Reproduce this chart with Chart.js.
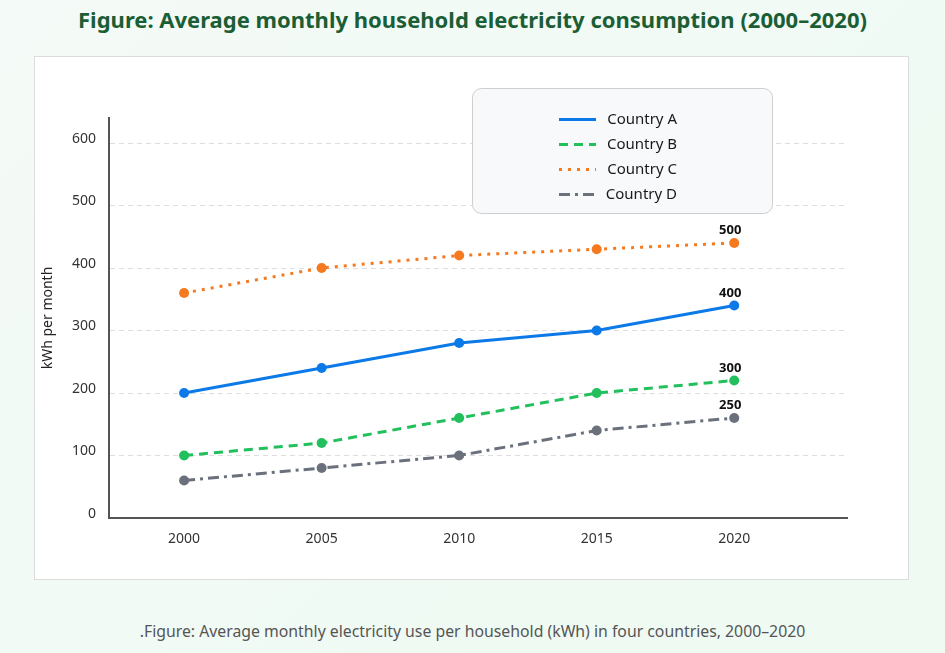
<!DOCTYPE html>
<html>
<head>
<meta charset="utf-8">
<script src="https://cdn.jsdelivr.net/npm/chart.js@4.4.1/dist/chart.umd.min.js"></script>
<style>
  html, body { margin: 0; padding: 0; }
  body {
    width: 945px; height: 653px; overflow: hidden; position: relative;
    background: linear-gradient(135deg, #f4faf7 0%, #eefaf2 100%);
    font-family: "Noto Sans", "Open Sans", sans-serif;
  }
  h1 {
    position: absolute; left: 0; top: 4px; width: 945px; margin: 0;
    text-align: center; font-size: 22px; font-weight: bold; color: #1b5e35;
    line-height: 30px;
  }
  .card {
    position: absolute; left: 34px; top: 56px; width: 873px; height: 522px;
    background: #fff; border: 1px solid #dcdcdc;
  }
  .caption {
    position: absolute; left: 0; top: 620px; width: 945px; text-align: center;
    font-size: 15.8px; color: #555; line-height: 22px;
  }
</style>
</head>
<body>
<h1>Figure: Average monthly household electricity consumption (2000–2020)</h1>
<div class="card"><canvas id="energyChart" width="873" height="522"></canvas></div>
<div class="caption">.Figure: Average monthly electricity use per household (kWh) in four countries, 2000–2020</div>

<script>
// data
const years = [2000, 2005, 2010, 2015, 2020];
const countryA = [200, 240, 280, 300, 340];
const countryB = [100, 120, 160, 200, 220];
const countryC = [360, 400, 420, 430, 440];
const countryD = [60, 80, 100, 140, 160];
// text shown above the last point of each line
const endLabels = { 'Country A': '400', 'Country B': '300', 'Country C': '500', 'Country D': '250' };
const yTicks = [0, 100, 200, 300, 400, 500, 600];

function toPoints(values) {
    return values.map((v, i) => ({ x: years[i], y: v }));
}

function makeSet(label, values, color, dash) {
    return {
        label: label,
        data: toPoints(values),
        borderColor: color,
        backgroundColor: color,
        borderWidth: 3,
        borderDash: dash,
        pointRadius: 5,
        pointBorderWidth: 0,
        pointBackgroundColor: color,
        tension: 0
    };
}

// little legend box drawn on the canvas
const boxLegend = {
    id: 'boxLegend',
    afterDraw(chart) {
        const ctx = chart.ctx;
        const area = chart.chartArea;
        const bx = area.right - 375, by = area.top - 30, bw = 300, bh = 125;
        ctx.save();
        ctx.beginPath();
        ctx.roundRect(bx + 0.5, by + 0.5, bw, bh, 9);
        ctx.fillStyle = '#f8f9fb';
        ctx.fill();
        ctx.strokeStyle = '#cfcfcf';
        ctx.lineWidth = 1;
        ctx.stroke();

        chart.data.datasets.forEach((ds, i) => {
            const y = by + 31.5 + i * 25;
            ctx.beginPath();
            ctx.setLineDash(ds.borderDash || []);
            ctx.strokeStyle = ds.borderColor;
            ctx.lineWidth = 3;
            ctx.moveTo(bx + 87, y);
            ctx.lineTo(bx + 124, y);
            ctx.stroke();
            ctx.setLineDash([]);
            ctx.fillStyle = '#1a1a1a';
            ctx.font = '15px "Noto Sans", sans-serif';
            ctx.textAlign = 'right';
            ctx.textBaseline = 'middle';
            ctx.fillText(ds.label, bx + 205, y);
        });
        ctx.restore();
    }
};

// value text above the last point
const endText = {
    id: 'endText',
    afterDatasetsDraw(chart) {
        const ctx = chart.ctx;
        ctx.save();
        ctx.font = 'bold 13px "Noto Sans", sans-serif';
        ctx.fillStyle = '#111';
        ctx.textAlign = 'center';
        ctx.textBaseline = 'bottom';
        chart.data.datasets.forEach((ds, i) => {
            const pts = chart.getDatasetMeta(i).data;
            const last = pts[pts.length - 1];
            ctx.fillText(endLabels[ds.label], last.x - 4, last.y - 6);
        });
        ctx.restore();
    }
};

document.addEventListener('DOMContentLoaded', function() {
    const ctx = document.getElementById('energyChart').getContext('2d');

    new Chart(ctx, {
        type: 'line',
        data: {
            datasets: [
                makeSet('Country A', countryA, '#0b7ae8', []),
                makeSet('Country B', countryB, '#22c05c', [9, 6]),
                makeSet('Country C', countryC, '#f57a1f', [3, 6]),
                makeSet('Country D', countryD, '#6b717c', [11, 5, 3, 5])
            ]
        },
        options: {
            responsive: false,
            animation: false,
            layout: { padding: { top: 61, right: 61, bottom: 21, left: 2 } },
            plugins: {
                legend: { display: false },
                tooltip: { enabled: false }
            },
            scales: {
                x: {
                    type: 'linear',
                    min: 1997.27,
                    max: 2024.1,
                    afterBuildTicks: scale => { scale.ticks = years.map(v => ({ value: v })); },
                    afterFit: scale => { scale.height = 40; },
                    grid: { display: false, drawTicks: false },
                    border: { display: true, color: '#555', width: 2 },
                    ticks: {
                        padding: 13,
                        color: '#333',
                        font: { family: '"Noto Sans", sans-serif', size: 14 },
                        callback: v => String(v)
                    }
                },
                y: {
                    min: 0,
                    max: 640,
                    afterBuildTicks: scale => { scale.ticks = yTicks.map(v => ({ value: v })); },
                    afterFit: scale => { scale.width = 72; },
                    grid: { color: '#dedede', lineWidth: 1, drawTicks: false },
                    border: { display: true, color: '#555', width: 2, dash: [5, 4] },
                    title: {
                        display: true,
                        text: 'kWh per month',
                        color: '#222',
                        font: { family: '"Noto Sans", sans-serif', size: 14 },
                        padding: { top: 3, bottom: 4 }
                    },
                    ticks: {
                        padding: 13,
                        labelOffset: -4,
                        color: '#333',
                        font: { family: '"Noto Sans", sans-serif', size: 14 }
                    }
                }
            }
        },
        plugins: [boxLegend, endText]
    });
});
</script>
</body>
</html>
